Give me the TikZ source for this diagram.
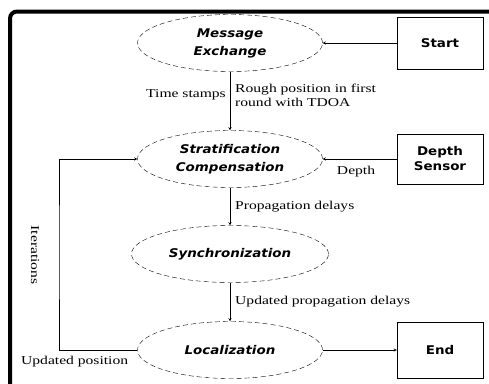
\documentclass[tikz,border=0pt]{standalone}
\usepackage{fontspec}
\newfontfamily\procfont[FakeStretch=1.12]{DejaVu Sans}
\newfontfamily\lblfont[FakeStretch=1.3]{Liberation Serif}
\usetikzlibrary{shapes,shapes.geometric,arrows,calc,positioning}

\begin{document}
\begin{tikzpicture}[%
    >=stealth,
    x=1pt, y=-1pt,
    on grid,
    auto,
    proc/.style={ellipse, draw, thin, dash pattern=on 5pt off 3pt,
      minimum width=185pt, minimum height=57pt, inner sep=0pt, align=center,
      font=\procfont\bfseries\itshape\fontsize{12}{18}\selectfont},
    term/.style={rectangle, draw, thin, minimum width=86pt, minimum height=52pt,
      align=center, font=\procfont\bfseries\fontsize{12}{15}\selectfont},
    lbl/.style={font=\lblfont\fontsize{12}{14}\selectfont, inner sep=4pt, align=left}
  ]
  \clip (0,0) rectangle (489,383);

  % frame
  \draw[line width=4pt, rounded corners=7pt] (10,400) -- (10,11.5) -- (500,11.5);

  \node[proc] (mex) at (230,43) {Message\\Exchange};
  \node[proc] (strat) [below=116pt of mex] {Stratification\\Compensation};
  \node[proc, minimum width=197pt] (sync) [below=95pt of strat] {Synchronization};
  \node[proc] (loc) [below=96pt of sync] {Localization};

  \node[term] (start) [right=210pt of mex] {Start};
  \node[term, minimum height=50pt] (depth) [right=210pt of strat] {Depth\\Sensor};
  \node[term, minimum height=56pt] (end) [right=210pt of loc] {End};

  \coordinate (turn) at (59,250);

  \path[->] (start) edge node {} (mex);
  \path[->] (depth) edge node[lbl, below, pos=0.55, inner sep=7pt] {Depth} (strat);
  \path[->] (mex) edge node[lbl, pos=0.4, left] {Time stamps}
    node[lbl, pos=0.4, right, inner sep=5pt] {Rough position in first\\round with TDOA} (strat);
  \path[->] (strat) edge node[lbl, right, inner sep=5pt] {Propagation delays} (sync);
  \path[->] (sync) edge node[lbl, right, inner sep=5pt] {Updated propagation delays} (loc);
  \path[->] (loc) edge node {} (end);

  \draw[->] (loc) -| node[lbl, pos=0.4, below, inner sep=6pt] {Updated position} (turn) |- (strat);
  \node[lbl, rotate=-90] (iterlbl) at (35,255) {Iterations};

\end{tikzpicture}
\end{document}
